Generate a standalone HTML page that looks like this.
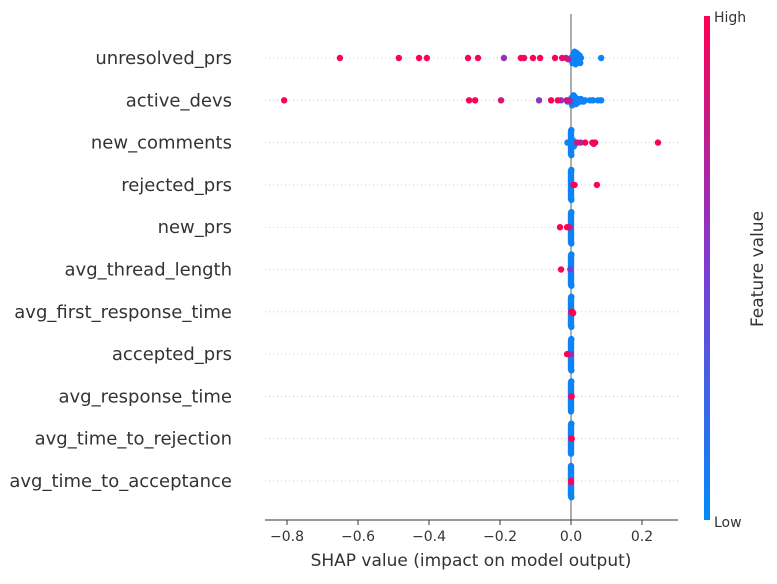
<!DOCTYPE html>
<html><head><meta charset="utf-8"><style>
body{margin:0;background:#fff;font-family:"Liberation Sans","DejaVu Sans",sans-serif}
svg text{font-family:"DejaVu Sans","Liberation Sans",sans-serif}
</style></head><body>
<svg id="c" width="777" height="579" xmlns="http://www.w3.org/2000/svg">
<defs><linearGradient id="cg" x1="0" y1="1" x2="0" y2="0">
<stop offset="0" stop-color="#008bfb"/><stop offset="0.5" stop-color="#7d3cd2"/><stop offset="1" stop-color="#ff0052"/></linearGradient></defs>
</svg>
<script>
const features=["unresolved_prs","active_devs","new_comments","rejected_prs","new_prs","avg_thread_length","avg_first_response_time","accepted_prs","avg_response_time","avg_time_to_rejection","avg_time_to_acceptance"];
const xTicks=[-0.8,-0.6,-0.4,-0.2,0.0,0.2];
// shap values and feature values (0 low .. 1 high) per feature
const shapVals=[
[-0.651,-0.485,-0.428,-0.406,-0.290,-0.262,-0.189,-0.141,-0.132,-0.107,-0.087,-0.045,-0.025,-0.014,-0.008,0.085,0,0.003,0.005,0.008,0.01,0.012,0.015,0.018,0.02,0.022,0.025,0.028,0.003,0.006,0.009,0.012,0.015,0.018,0.02,0.024,0.007,0.011,0.016,0.021,0.004,0.013,0.019,0.026,0.01],
[-0.808,-0.287,-0.270,-0.197,-0.090,-0.056,-0.037,-0.028,-0.012,0.054,0.062,0.076,0.085,-0.005,0,0.002,0.004,0.006,0.008,0.01,0.012,0.015,0.018,0.02,0.025,0.03,0.035,0.04,0.002,0.005,0.008,0.011,0.014,0.003,0.007,0.01,0.02,0.028,-0.01,0.001],
[0.245,0.017,0.027,0.04,0.06,0.068,0.064,-0.01,-0.005,0,0,0,0,0,0,0,0,0,0,0,0,0,0,0,0,0,0,0.001,0.001,0.002,0.002,0.003,0.004,0.005,0.008,0.012],
[0.073,0.01,0.006,0,0,0,0,0,0,0,0,0,0,0,0,0,0,0,0,0,0,0,0,0,0,0,0.001,0.001],
[-0.031,-0.011,-0.004,0,0,0,0,0,0,0,0,0,0,0,0,0,0,0,0,0,0,0,0,0,0,0,0.001,0.001],
[-0.028,-0.002,0,0,0,0,0,0,0,0,0,0,0,0,0,0,0,0,0,0,0,0,0,0,0,0.001,0.001],
[0.001,0.004,0.006,0,0,0,0,0,0,0,0,0,0,0,0,0,0,0,0,0,0,0,0,0,0,0.001,0.001],
[-0.011,0,0,0,0,0,0,0,0,0,0,0,0,0,0,0,0,0,0,0,0,0,0,0,0,0.001,0.001],
[0.002,0,0,0,0,0,0,0,0,0,0,0,0,0,0,0,0,0,0,0,0,0,0,0,0,0.001],
[0.002,0,0,0,0,0,0,0,0,0,0,0,0,0,0,0,0,0,0,0,0,0,0,0,0,0.001],
[0.0,0,0,0,0,0,0,0,0,0,0,0,0,0,0,0,0,0,0,0,0,0,0,0,0,0.001]
];
const featVals=[
[1,1,1,1,1,1,0.6,1,0.9,1,1,1,0.9,0.8,0.7,0.05],
[1,1,1,0.85,0.55,1,1,0.5,0.8,0.05,0.05,0.05,0.05,0.7,0.4],
[1,0.8,0.6,1,0.9,1,0.8,0.05],
[1,1,0.7],
[1,1,0.8],
[1,0.5],
[1,1,1],
[1,0.6],
[1,0.7],
[1,0.7],
[1,0.7]
];
const X0=571,PX=355,rowY0=58,rowStep=42.3;
const xs=v=>X0+v*PX, ys=i=>rowY0+i*rowStep;
const svg=document.getElementById('c');
const NS="http://www.w3.org/2000/svg";
function mk(t,a,p){const e=document.createElementNS(NS,t);for(const k in a)e.setAttribute(k,a[k]);(p||svg).appendChild(e);return e;}
function col(f){const b=[0,139,251],m=[125,60,210],r=[255,0,82];let a,c,t;if(f<0.5){a=b;c=m;t=f/0.5}else{a=m;c=r;t=(f-0.5)/0.5}return `rgb(${a.map((v,i)=>Math.round(v+(c[i]-v)*t)).join(',')})`;}
features.forEach((f,i)=>{
 const l=mk('line',{x1:265,x2:678,y1:ys(i),y2:ys(i),stroke:'#ccc','stroke-dasharray':'1,3','stroke-width':1});
 
 
 const t=mk('text',{x:232,y:ys(i)+6,'text-anchor':'end','font-size':18,fill:'#333'});
 t.textContent=f;
 
 
});
const zl=mk('line',{x1:571,x2:571,y1:14,y2:520,stroke:'#999','stroke-width':1.6});


features.forEach((f,i)=>{
 const bins={};
 const pts=shapVals[i].map((v,j)=>({v,fv:featVals[i][j]!==undefined?featVals[i][j]:0.05}));
 pts.forEach(p=>{
  const x=xs(p.v);const k=Math.round(x/3);
  const n=bins[k]||0;bins[k]=n+1;
  p.x=x;p.off=(n%2?1:-1)*Math.ceil(n/2)*1.25;
 });
 pts.slice().sort((a,b)=>a.fv-b.fv).forEach(p=>{
  const c=mk('circle',{cx:p.x,cy:ys(i)+p.off,r:3.2,fill:col(p.fv)});
  
  
 });
});
const ax=mk('line',{x1:265,x2:678,y1:520,y2:520,stroke:'#333','stroke-width':1});


xTicks.forEach(v=>{
 mk('line',{x1:xs(v),x2:xs(v),y1:520,y2:525,stroke:'#333'});
 const t=mk('text',{x:xs(v),y:541,'text-anchor':'middle','font-size':14,fill:'#333'});
 t.textContent=(v<0?'\u2212':'')+Math.abs(v).toFixed(1);
 
 
});
const xt=mk('text',{x:471,y:566,'text-anchor':'middle','font-size':17,fill:'#333'});
xt.textContent='SHAP value (impact on model output)';


const cb=mk('rect',{x:704,y:16,width:6,height:504,fill:'url(#cg)'});


const hi=mk('text',{x:714,y:22,'font-size':14,fill:'#333'});hi.textContent='High';


const lo=mk('text',{x:714,y:527,'font-size':14,fill:'#333'});lo.textContent='Low';


const fvt=mk('text',{x:763,y:269,'text-anchor':'middle','font-size':17,fill:'#333',transform:'rotate(-90 763 269)'});
fvt.textContent='Feature value';


</script>
</body></html>
